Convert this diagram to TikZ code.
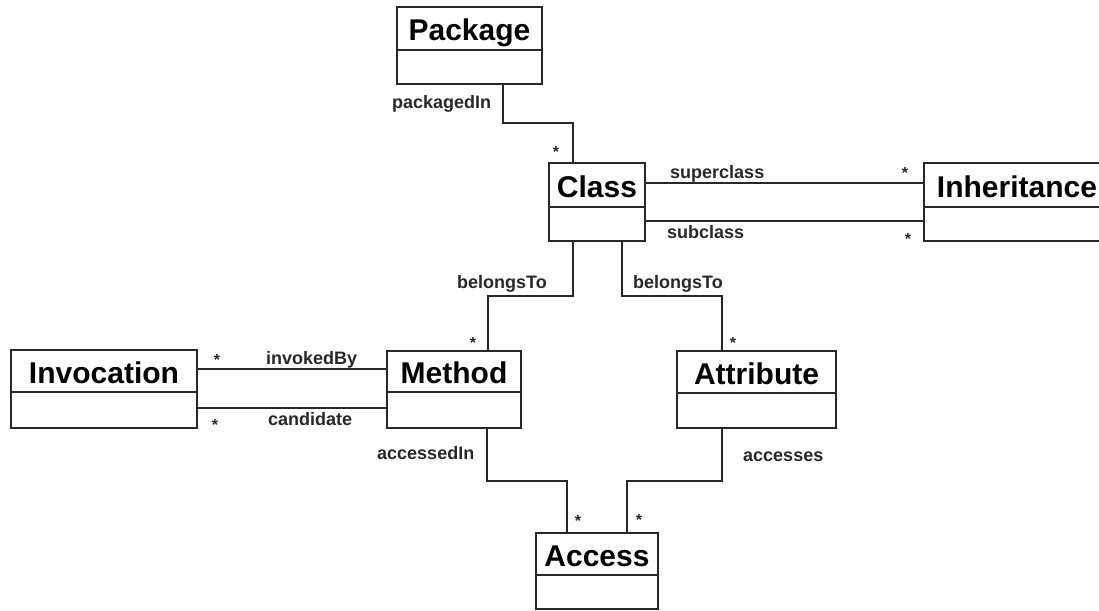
\documentclass[tikz,border=0pt]{standalone}
\usepackage{fontspec}
\setmainfont{Liberation Sans}
\usetikzlibrary{calc}
\definecolor{ink}{RGB}{40,40,40}
\tikzset{
  umlbox/.style={draw=ink, line width=1.3pt, rectangle, inner sep=0pt, outer sep=0pt},
  umlline/.style={draw=ink, line width=1.3pt},
  conn/.style={draw=ink, line width=1.2pt},
  umltitle/.style={font=\bfseries\fontsize{30}{36}\selectfont, anchor=base, inner sep=0pt, text=black},
  rolelabel/.style={font=\bfseries\fontsize{18}{22}\selectfont, anchor=base west, inner sep=0pt, text=ink},
  mult/.style={font=\bfseries\fontsize{16}{16}\selectfont, anchor=base, inner sep=0pt, text=ink},
}
\newcommand\umlcls[7]{%
  \node[umlbox, minimum width={#4-#2}, minimum height={#5-#3}] (#1) at ({(#2+#4)/2},{(#3+#5)/2}) {};
  \draw[umlline] ($(#1.north west)+(0,#6)$) -- ($(#1.north east)+(0,#6)$);
  \node[umltitle] (#1t) at ($(#1.north)+(0,#6/2+12)$) {#7};}
\begin{document}
\begin{tikzpicture}[x=1pt,y=-1pt]
\useasboundingbox[fill=white] (0,0) rectangle (1099,610);
% classes
\umlcls{pkg}{397}{7}{542}{84}{43}{Package}
\umlcls{cls}{549}{163}{645}{241}{44}{Class}
\umlcls{inh}{924}{163}{1110}{241}{44}{Inheritance}
\umlcls{inv}{11}{350}{197}{428}{42}{Invocation}
\umlcls{meth}{387}{351}{521}{428}{41}{Method}
\umlcls{attr}{677}{351}{836}{428}{42}{Attribute}
\umlcls{acc}{536}{533}{658}{609}{42}{Access}
% connectors
\draw[conn] ($(pkg.south)+(33.5,0)$) -- ++(0,39) -| ($(cls.north)+(-24,0)$);
\draw[conn] ($(cls.north east)+(0,20)$) -- ($(inh.north west)+(0,20)$);
\draw[conn] ($(cls.south east)+(0,-20)$) -- ($(inh.south west)+(0,-20)$);
\draw[conn] ($(cls.south)+(-24,0)$) -- ++(0,55) -| ($(meth.north)+(34,0)$);
\draw[conn] ($(cls.south)+(25,0)$) -- ++(0,55) -| ($(attr.north)+(-34.5,0)$);
\draw[conn] ($(inv.north east)+(0,19)$) -- ($(meth.north west)+(0,18)$);
\draw[conn] ($(inv.north east)+(0,58)$) -- ($(meth.north west)+(0,57)$);
\draw[conn] ($(meth.south)+(33,0)$) -- ++(0,53) -| ($(acc.north)+(-30,0)$);
\draw[conn] ($(attr.south)+(-34.5,0)$) -- ++(0,53) -| ($(acc.north)+(30,0)$);
% role labels
\node[rolelabel] (lpkg) at (392,108) {packagedIn};
\node[rolelabel] (lsup) at (670,178) {superclass};
\node[rolelabel] (lsub) at (667,238) {subclass};
\node[rolelabel] (lbm) at (457,288) {belongsTo};
\node[rolelabel] (lba) at (633,288) {belongsTo};
\node[rolelabel] (linv) at (266,364) {invokedBy};
\node[rolelabel] (lcand) at (268,425) {candidate};
\node[rolelabel] (lain) at (377,459) {accessedIn};
\node[rolelabel] (lacs) at (743,461) {accesses};
% multiplicities
\node[mult] (m1) at (556,157) {*};
\node[mult] (m2) at (905,178) {*};
\node[mult] (m3) at (908,244) {*};
\node[mult] (m4) at (473,348) {*};
\node[mult] (m5) at (733,348) {*};
\node[mult] (m6) at (217,365) {*};
\node[mult] (m7) at (215,430) {*};
\node[mult] (m8) at (578,526) {*};
\node[mult] (m9) at (639,525) {*};
\end{tikzpicture}
\end{document}
